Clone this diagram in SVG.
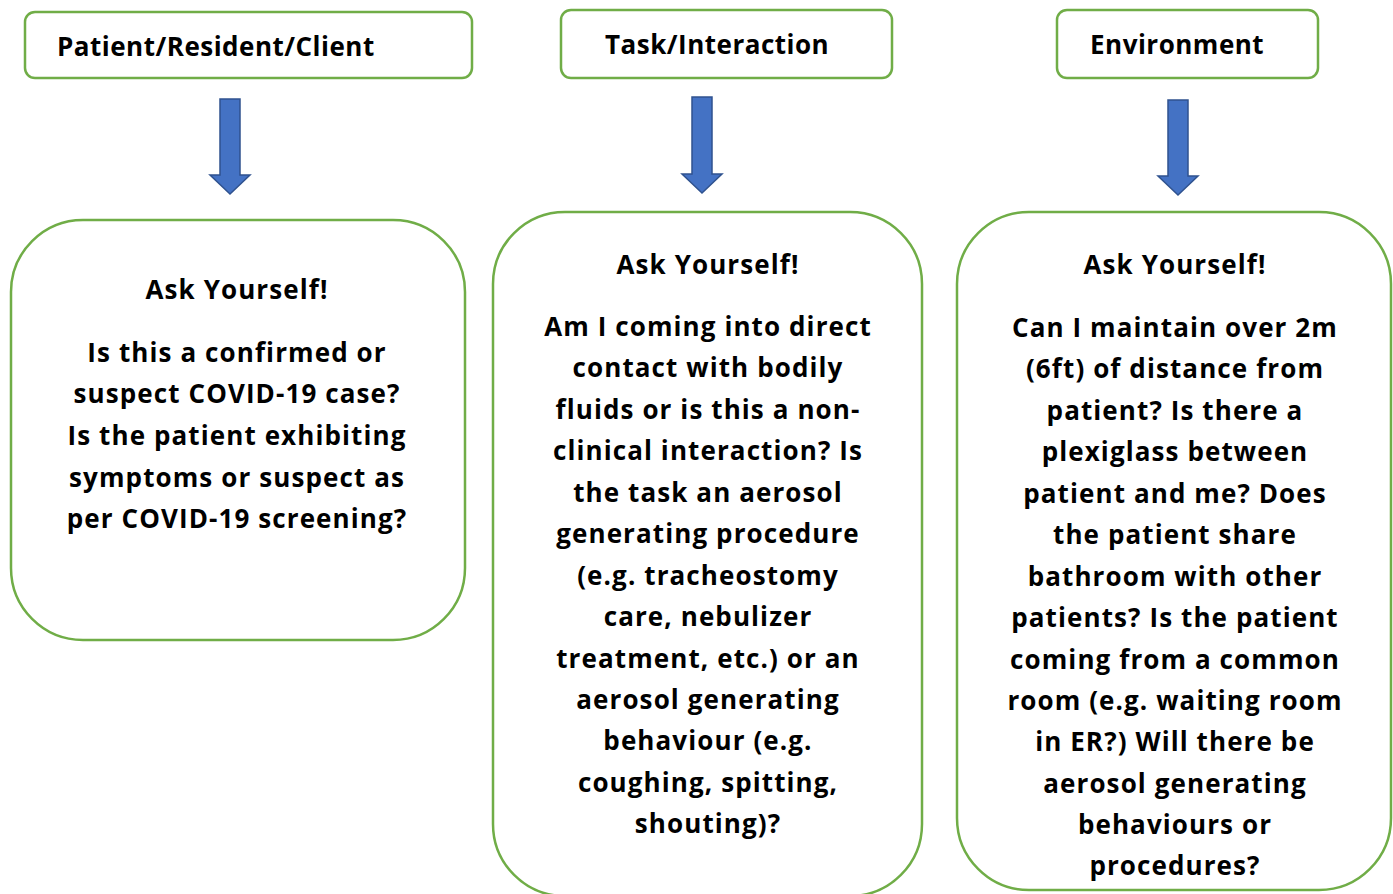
<svg xmlns="http://www.w3.org/2000/svg" width="1393" height="894" viewBox="0 0 1393 894">
  <defs>
    <style>
      .box { fill: #ffffff; stroke: #70AD47; stroke-width: 2.5; }
      .arrow { fill: #4472C4; stroke: #2F528F; stroke-width: 1.5; }
      .hd { font-family: "Open Sans", "Noto Sans", sans-serif; font-weight: 700; font-size: 26px; letter-spacing: 0.5px; fill: #000; }
      .tx { font-family: "Open Sans", "Noto Sans", sans-serif; font-weight: 700; font-size: 26px; letter-spacing: 1.1px; fill: #000; text-anchor: middle; }
    </style>
  </defs>
  <rect width="1393" height="894" fill="#ffffff"/>

  <!-- category headers -->
  <g id="hdr-patient">
    <rect class="box" x="25" y="12" width="447" height="66" rx="10"/>
    <text class="hd" x="57" y="56">Patient/Resident/Client</text>
  </g>
  <g id="hdr-task">
    <rect class="box" x="561" y="10" width="331" height="68" rx="10"/>
    <text class="hd" x="605" y="54">Task/Interaction</text>
  </g>
  <g id="hdr-env">
    <rect class="box" x="1057" y="10" width="261" height="68" rx="10"/>
    <text class="hd" x="1090" y="54">Environment</text>
  </g>

  <!-- down arrows -->
  <g id="connectors">
    <path class="arrow" d="M220,99 H240 V175 H250 L230,194 L210,175 H220 Z"/>
    <path class="arrow" d="M692,97 H712 V174 H722 L702,193 L682,174 H692 Z"/>
    <path class="arrow" d="M1168,100 H1188 V176 H1198 L1178,195 L1158,176 H1168 Z"/>
  </g>

  <!-- question boxes -->
  <g id="q-patient">
    <rect class="box" x="11" y="220" width="454" height="420" rx="72"/>
    <text class="tx" x="237" y="299">Ask Yourself!</text>
    <text class="tx" x="237" y="362">Is this a confirmed or</text>
    <text class="tx" x="237" y="403">suspect COVID-19 case?</text>
    <text class="tx" x="237" y="445">Is the patient exhibiting</text>
    <text class="tx" x="237" y="487">symptoms or suspect as</text>
    <text class="tx" x="237" y="528">per COVID-19 screening?</text>
  </g>

  <g id="q-task">
    <rect class="box" x="493" y="212" width="429" height="684" rx="72"/>
    <text class="tx" x="708" y="274">Ask Yourself!</text>
    <text class="tx" x="708" y="336">Am I coming into direct</text>
    <text class="tx" x="708" y="377">contact with bodily</text>
    <text class="tx" x="708" y="419">fluids or is this a non-</text>
    <text class="tx" x="708" y="460">clinical interaction? Is</text>
    <text class="tx" x="708" y="502">the task an aerosol</text>
    <text class="tx" x="708" y="543">generating procedure</text>
    <text class="tx" x="708" y="585">(e.g. tracheostomy</text>
    <text class="tx" x="708" y="626">care, nebulizer</text>
    <text class="tx" x="708" y="668">treatment, etc.) or an</text>
    <text class="tx" x="708" y="709">aerosol generating</text>
    <text class="tx" x="708" y="750">behaviour (e.g.</text>
    <text class="tx" x="708" y="792">coughing, spitting,</text>
    <text class="tx" x="708" y="833">shouting)?</text>
  </g>

  <g id="q-env">
    <rect class="box" x="957" y="212" width="434" height="678" rx="72"/>
    <text class="tx" x="1175" y="274">Ask Yourself!</text>
    <text class="tx" x="1175" y="337">Can I maintain over 2m</text>
    <text class="tx" x="1175" y="378">(6ft) of distance from</text>
    <text class="tx" x="1175" y="420">patient? Is there a</text>
    <text class="tx" x="1175" y="461">plexiglass between</text>
    <text class="tx" x="1175" y="503">patient and me? Does</text>
    <text class="tx" x="1175" y="544">the patient share</text>
    <text class="tx" x="1175" y="586">bathroom with other</text>
    <text class="tx" x="1175" y="627">patients? Is the patient</text>
    <text class="tx" x="1175" y="669">coming from a common</text>
    <text class="tx" x="1175" y="710">room (e.g. waiting room</text>
    <text class="tx" x="1175" y="751">in ER?) Will there be</text>
    <text class="tx" x="1175" y="793">aerosol generating</text>
    <text class="tx" x="1175" y="834">behaviours or</text>
    <text class="tx" x="1175" y="875">procedures?</text>
  </g>
</svg>
